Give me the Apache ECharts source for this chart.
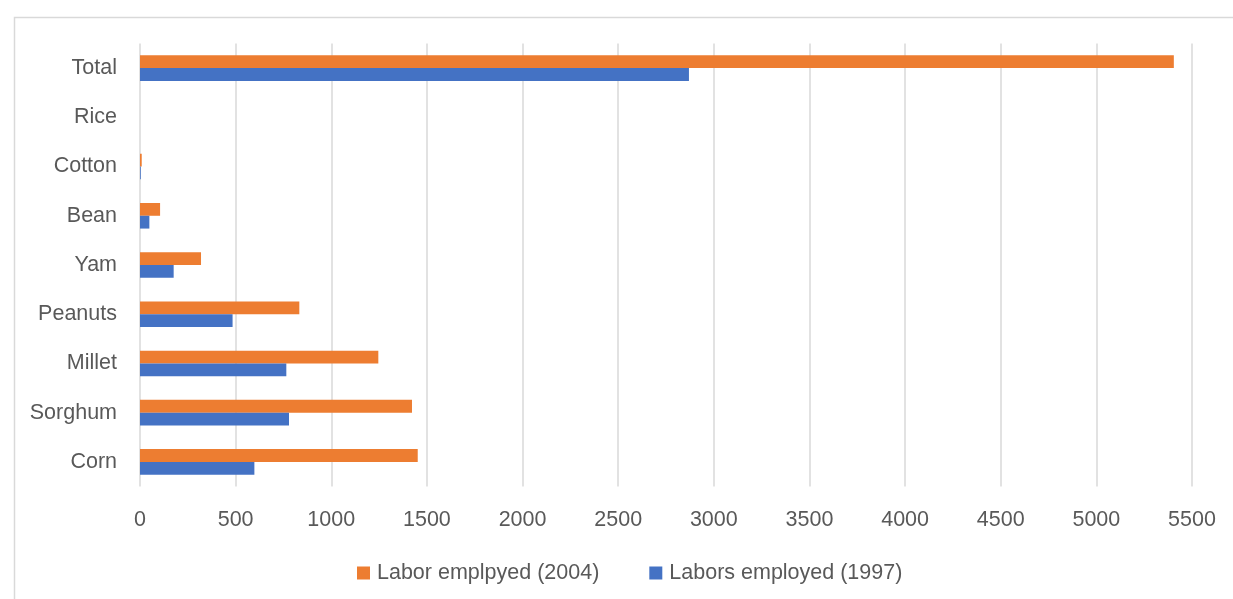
<!DOCTYPE html>
<html>
<head>
<meta charset="utf-8">
<script src="https://cdn.jsdelivr.net/npm/echarts@6/dist/echarts.min.js"></script>
<style>html,body{margin:0;padding:0;background:#fff;}#c{width:1233px;height:599px;}</style>
</head>
<body>
<div id="c"></div>
<script>
const categories = ['Corn', 'Sorghum', 'Millet', 'Peanuts', 'Yam', 'Bean', 'Cotton', 'Rice', 'Total'];
const labor2004 = [1452, 1422, 1246, 833, 319, 105, 9, 0, 5405];
const labor1997 = [598, 779, 765, 484, 176, 49, 4, 0, 2870];
const xTicks = { min: 0, max: 5500, interval: 500 };
const name2004 = 'Labor emplpyed (2004)';
const name1997 = 'Labors employed (1997)';

const chart = echarts.init(document.getElementById('c'));
const font = 'Liberation Sans, Arial, sans-serif';
chart.setOption({
  animation: false,
  backgroundColor: '#fff',
  graphic: [{
    type: 'rect', left: 12, top: 15, silent: true,
    shape: { width: 1240, height: 600 },
    style: { fill: 'none', stroke: '#d9d9d9', lineWidth: 1.5 }
  }],
  grid: { left: 140, right: 41, top: 43.5, bottom: 112.5 },
  legend: {
    data: [name2004, name1997],
    left: 352, top: 557,
    itemWidth: 13, itemHeight: 13, itemGap: 50,
    icon: 'rect',
    textStyle: { fontFamily: font, fontSize: 21.5, color: '#595959', padding: [0, 0, 0, 2] }
  },
  xAxis: {
    type: 'value', min: xTicks.min, max: xTicks.max, interval: xTicks.interval,
    axisLine: { show: false }, axisTick: { show: false },
    splitLine: { show: true, lineStyle: { color: '#d9d9d9', width: 1.5 } },
    axisLabel: { fontFamily: font, fontSize: 21.5, color: '#595959', margin: 23,
      formatter: function (v) { return String(v); } }
  },
  yAxis: {
    type: 'category', data: categories,
    axisLine: { show: false }, axisTick: { show: false },
    axisLabel: { fontFamily: font, fontSize: 21.5, color: '#595959', margin: 23,
      padding: [3, 0, 0, 0] }
  },
  series: [
    {
      name: name2004, type: 'bar', data: labor2004,
      barGap: '0%', barCategoryGap: '48%',
      itemStyle: { color: '#ED7D31' }
    },
    {
      name: name1997, type: 'bar', data: labor1997,
      barGap: '0%', barCategoryGap: '48%',
      itemStyle: { color: '#4472C4' }
    }
  ]
});
</script>
</body>
</html>
